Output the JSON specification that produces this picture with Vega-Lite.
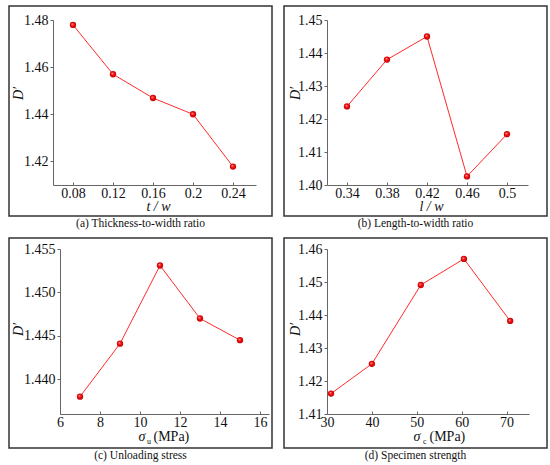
{
  "$schema": "https://vega.github.io/schema/vega-lite/v6.json",
  "background": "white",
  "padding": {"left": 8, "top": 5, "right": 0, "bottom": 0},
  "config": {
    "font": "'Liberation Serif', 'Times New Roman', serif",
    "view": {"stroke": "#333333", "strokeWidth": 1.5},
    "axis": {
      "grid": false,
      "domainColor": "#666666",
      "domainWidth": 1,
      "tickColor": "#666666",
      "tickWidth": 1,
      "labelFont": "'Liberation Serif', 'Times New Roman', serif",
      "titleFont": "'Liberation Serif', 'Times New Roman', serif",
      "labelFontSize": 14,
      "labelColor": "#111111",
      "titleFontSize": 14,
      "titleFontWeight": "normal",
      "titleColor": "#111111"
    },
    "axisX": {"tickSize": -3, "labelPadding": 4, "labelFlush": false},
    "axisY": {"tickSize": 3, "labelPadding": 2},
    "title": {"orient": "bottom", "anchor": "middle", "font": "'Liberation Serif', 'Times New Roman', serif", "fontSize": 11.5, "fontWeight": "normal", "color": "#111111", "offset": 2}
  },
  "datasets": {
    "a": [
      {"x": 0.08, "y": 1.4779},
      {"x": 0.12, "y": 1.457},
      {"x": 0.16, "y": 1.4469},
      {"x": 0.2, "y": 1.44},
      {"x": 0.24, "y": 1.4178}
    ],
    "b": [
      {"x": 0.34, "y": 1.4238},
      {"x": 0.38, "y": 1.438},
      {"x": 0.42, "y": 1.445},
      {"x": 0.46, "y": 1.4026},
      {"x": 0.5, "y": 1.4154}
    ],
    "c": [
      {"x": 7, "y": 1.438},
      {"x": 9, "y": 1.4441},
      {"x": 11, "y": 1.4531},
      {"x": 13, "y": 1.447},
      {"x": 15, "y": 1.4445}
    ],
    "d": [
      {"x": 30.9, "y": 1.4162},
      {"x": 40, "y": 1.4252},
      {"x": 50.9, "y": 1.4491},
      {"x": 60.5, "y": 1.457},
      {"x": 70.8, "y": 1.4382}
    ]
  },
  "vconcat": [
    {
      "hconcat": [
        {
          "width": 263,
          "height": 210,
          "title": "(a) Thickness-to-width ratio",
          "data": {"name": "a"},
          "encoding": {
            "x": {
              "field": "x", "type": "quantitative",
              "scale": {"domain": [0.06, 0.263], "range": [44, 247], "nice": false, "zero": false},
              "axis": {"values": [0.08, 0.12, 0.16, 0.2, 0.24], "format": "~g", "offset": -31, "title": "t / w", "titleFontStyle": "italic", "titleX": 149, "titleY": 25, "titleBaseline": "alphabetic"}
            },
            "y": {
              "field": "y", "type": "quantitative",
              "scale": {"domain": [1.41, 1.48], "range": [179, 14], "nice": false, "zero": false},
              "axis": {"values": [1.42, 1.44, 1.46, 1.48], "format": ".2f", "offset": -44, "title": "D′", "titleFontStyle": "italic", "titleX": -31, "titleY": 87, "titleBaseline": "alphabetic"}
            }
          },
          "layer": [
            {"mark": {"type": "line", "color": "#ff2b2b", "strokeWidth": 1}},
            {"mark": {"type": "point", "shape": "circle", "filled": true, "size": 40, "opacity": 1, "fill": {"gradient": "radial", "x1": 0.38, "y1": 0.35, "r1": 0, "x2": 0.5, "y2": 0.5, "r2": 0.5, "stops": [{"offset": 0, "color": "#ffe0e0"}, {"offset": 0.35, "color": "#ff1a1a"}, {"offset": 1, "color": "#c00000"}]}}}
          ]
        },
        {
          "width": 263,
          "height": 210,
          "title": "(b) Length-to-width ratio",
          "data": {"name": "b"},
          "encoding": {
            "x": {
              "field": "x", "type": "quantitative",
              "scale": {"domain": [0.32, 0.521], "range": [43, 244], "nice": false, "zero": false},
              "axis": {"values": [0.34, 0.38, 0.42, 0.46, 0.5], "format": "~g", "offset": -31, "title": "l / w", "titleFontStyle": "italic", "titleX": 147, "titleY": 25, "titleBaseline": "alphabetic"}
            },
            "y": {
              "field": "y", "type": "quantitative",
              "scale": {"domain": [1.4, 1.45], "range": [179, 14], "nice": false, "zero": false},
              "axis": {"values": [1.4, 1.41, 1.42, 1.43, 1.44, 1.45], "format": ".2f", "offset": -43, "title": "D′", "titleFontStyle": "italic", "titleX": -28, "titleY": 87, "titleBaseline": "alphabetic"}
            }
          },
          "layer": [
            {"mark": {"type": "line", "color": "#ff2b2b", "strokeWidth": 1}},
            {"mark": {"type": "point", "shape": "circle", "filled": true, "size": 40, "opacity": 1, "fill": {"gradient": "radial", "x1": 0.38, "y1": 0.35, "r1": 0, "x2": 0.5, "y2": 0.5, "r2": 0.5, "stops": [{"offset": 0, "color": "#ffe0e0"}, {"offset": 0.35, "color": "#ff1a1a"}, {"offset": 1, "color": "#c00000"}]}}}
          ]
        }
      ],
      "spacing": 10
    },
    {
      "hconcat": [
        {
          "width": 263,
          "height": 210,
          "title": "(c) Unloading stress",
          "data": {"name": "c"},
          "encoding": {
            "y": {
              "field": "y", "type": "quantitative",
              "scale": {"domain": [1.436, 1.455], "range": [176, 11], "nice": false, "zero": false},
              "axis": {"values": [1.44, 1.445, 1.45, 1.455], "format": ".3f", "offset": -51, "title": "D′", "titleFontStyle": "italic", "titleX": -38, "titleY": 91, "titleBaseline": "alphabetic"}
            }
          },
          "layer": [
            {
              "mark": {"type": "line", "color": "#ff2b2b", "strokeWidth": 1},
              "encoding": {
                "x": {
                  "field": "x", "type": "quantitative",
                  "scale": {"domain": [6, 16.45], "range": [51, 260], "nice": false, "zero": false},
                  "axis": {"orient": "bottom", "values": [6, 8, 10, 12, 14, 16], "offset": -34, "title": "σ", "titleFontStyle": "italic", "titleAlign": "left", "titleX": 129, "titleY": 26, "titleBaseline": "alphabetic"}
                }
              }
            },
            {
              "mark": {"type": "point", "shape": "circle", "filled": true, "size": 40, "opacity": 1, "fill": {"gradient": "radial", "x1": 0.38, "y1": 0.35, "r1": 0, "x2": 0.5, "y2": 0.5, "r2": 0.5, "stops": [{"offset": 0, "color": "#ffe0e0"}, {"offset": 0.35, "color": "#ff1a1a"}, {"offset": 1, "color": "#c00000"}]}},
              "encoding": {
                "x": {
                  "field": "x", "type": "quantitative",
                  "axis": {"orient": "bottom", "offset": -34, "domain": false, "ticks": false, "labels": false, "title": "(MPa)", "titleAlign": "left", "titleX": 144, "titleY": 26, "titleBaseline": "alphabetic"}
                }
              }
            },
            {
              "mark": {"type": "point", "opacity": 0},
              "encoding": {
                "x": {
                  "field": "x", "type": "quantitative",
                  "axis": {"orient": "bottom", "offset": -34, "domain": false, "ticks": false, "labels": false, "title": "u", "titleFontSize": 8, "titleAlign": "left", "titleX": 137.5, "titleY": 29, "titleBaseline": "alphabetic"}
                }
              }
            }
          ],
          "resolve": {"axis": {"x": "independent"}}
        },
        {
          "width": 263,
          "height": 210,
          "title": "(d) Specimen strength",
          "data": {"name": "d"},
          "encoding": {
            "y": {
              "field": "y", "type": "quantitative",
              "scale": {"domain": [1.41, 1.46], "range": [176, 11], "nice": false, "zero": false},
              "axis": {"values": [1.41, 1.42, 1.43, 1.44, 1.45, 1.46], "format": ".2f", "offset": -43, "title": "D′", "titleFontStyle": "italic", "titleX": -28, "titleY": 91, "titleBaseline": "alphabetic"}
            }
          },
          "layer": [
            {
              "mark": {"type": "line", "color": "#ff2b2b", "strokeWidth": 1},
              "encoding": {
                "x": {
                  "field": "x", "type": "quantitative",
                  "scale": {"domain": [30, 75], "range": [43, 245], "nice": false, "zero": false},
                  "axis": {"orient": "bottom", "values": [30, 40, 50, 60, 70], "offset": -34, "title": "σ", "titleFontStyle": "italic", "titleAlign": "left", "titleX": 129, "titleY": 26, "titleBaseline": "alphabetic"}
                }
              }
            },
            {
              "mark": {"type": "point", "shape": "circle", "filled": true, "size": 40, "opacity": 1, "fill": {"gradient": "radial", "x1": 0.38, "y1": 0.35, "r1": 0, "x2": 0.5, "y2": 0.5, "r2": 0.5, "stops": [{"offset": 0, "color": "#ffe0e0"}, {"offset": 0.35, "color": "#ff1a1a"}, {"offset": 1, "color": "#c00000"}]}},
              "encoding": {
                "x": {
                  "field": "x", "type": "quantitative",
                  "axis": {"orient": "bottom", "offset": -34, "domain": false, "ticks": false, "labels": false, "title": "(MPa)", "titleAlign": "left", "titleX": 145, "titleY": 26, "titleBaseline": "alphabetic"}
                }
              }
            },
            {
              "mark": {"type": "point", "opacity": 0},
              "encoding": {
                "x": {
                  "field": "x", "type": "quantitative",
                  "axis": {"orient": "bottom", "offset": -34, "domain": false, "ticks": false, "labels": false, "title": "c", "titleFontSize": 8, "titleAlign": "left", "titleX": 138.5, "titleY": 29, "titleBaseline": "alphabetic"}
                }
              }
            }
          ],
          "resolve": {"axis": {"x": "independent"}}
        }
      ],
      "spacing": 10
    }
  ],
  "spacing": 6
}
